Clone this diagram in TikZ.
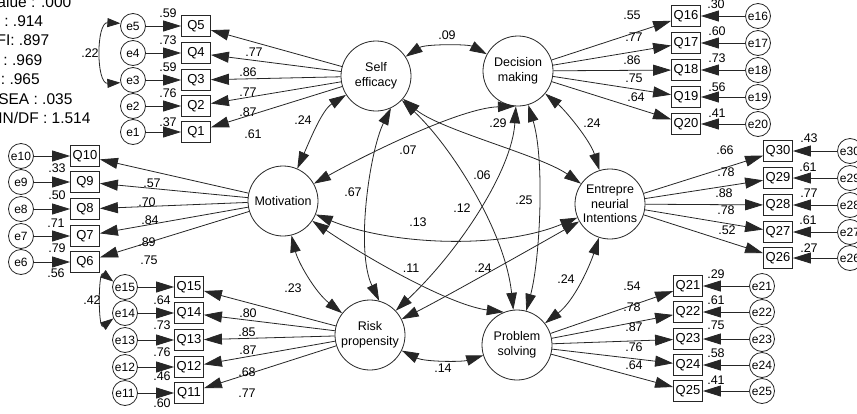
\documentclass[tikz,border=0pt]{standalone}
\usepackage{fontspec}
\setmainfont{Liberation Sans}
\usetikzlibrary{arrows.meta}
\begin{document}
\begin{tikzpicture}[x=1pt,y=-1pt,
  lat/.style={circle,draw=black!85,line width=0.8pt,minimum size=70pt,inner sep=0pt,align=center,font=\fontsize{12.5}{14.5}\selectfont},
  obs/.style={rectangle,draw=black!85,line width=0.8pt,minimum width=29pt,minimum height=21pt,inner sep=0pt,font=\fontsize{13}{14}\selectfont},
  err/.style={circle,draw=black!85,line width=0.8pt,minimum size=25pt,inner sep=0pt,font=\fontsize{12}{14}\selectfont},
  arr/.style={draw=black!85,line width=0.8pt,-{Triangle[length=18pt,width=11pt]}},
  cov/.style={draw=black!85,line width=0.8pt,{Triangle[length=17pt,width=10.5pt]}-{Triangle[length=17pt,width=10.5pt]}},
  ecov/.style={draw=black!85,line width=0.8pt,{Triangle[length=13pt,width=9pt]}-{Triangle[length=13pt,width=9pt]}},
  num/.style={font=\fontsize{12.5}{14}\selectfont,inner sep=0pt},
  fitx/.style={font=\fontsize{15.5}{18}\selectfont,anchor=base west,inner sep=0pt}
]
\useasboundingbox (0,0) rectangle (857,413);
\fill[white] (0,0) rectangle (857,413);
\clip (0,0) rectangle (857,413);

% fit indices
\node[fitx] (f1) at (-26,7) {P-value : .000};
\node[fitx] (f2) at (-26,26.5) {GFI : .914};
\node[fitx] (f3) at (-26,45) {AGFI: .897};
\node[fitx] (f4) at (-26,65) {CFI : .969};
\node[fitx] (f5) at (-26,84.5) {TLI : .965};
\node[fitx] (f6) at (-26,104) {RMSEA : .035};
\node[fitx] (f7) at (-26,123.5) {CMIN/DF : 1.514};

% latent variables
\node[lat] (SE) at (376,76) {Self\\efficacy};
\node[lat] (DM) at (518,71) {Decision\\making};
\node[lat] (Mot) at (283,201) {Motivation};
\node[lat] (EI) at (610,204) {Entrepre\\neurial\\Intentions};
\node[lat] (RP) at (370,335) {Risk\\propensity};
\node[lat] (PS) at (517,345) {Problem\\solving};

% measurement: Self efficacy
\foreach \i/\y in {5/26,4/53,3/80,2/106,1/132}{
  \node[obs] (Q\i) at (196,\y) {Q\i};
  \node[err] (e\i) at (133,\y) {e\i};
  \draw[arr] (e\i) -- (Q\i);
  \draw[arr] (SE) -- (Q\i);
}
% Motivation
\foreach \i/\y in {10/156,9/182,8/209,7/236,6/262}{
  \node[obs] (Q\i) at (85,\y) {Q\i};
  \node[err] (e\i) at (21,\y) {e\i};
  \draw[arr] (e\i) -- (Q\i);
  \draw[arr] (Mot) -- (Q\i);
}
% Risk propensity
\foreach \i/\y in {15/287,14/313,13/340,12/367,11/393}{
  \node[obs] (Q\i) at (189,\y) {Q\i};
  \node[err] (e\i) at (125,\y) {e\i};
  \draw[arr] (e\i) -- (Q\i);
  \draw[arr] (RP) -- (Q\i);
}
% Decision making
\foreach \i/\y in {16/16,17/43,18/70,19/97,20/124}{
  \node[obs] (Q\i) at (686,\y) {Q\i};
  \node[err] (e\i) at (758,\y) {e\i};
  \draw[arr] (e\i) -- (Q\i);
  \draw[arr] (DM) -- (Q\i);
}
% Entrepreneurial intentions
\foreach \i/\y in {30/151,29/178,28/205,27/232,26/258}{
  \node[obs] (Q\i) at (778,\y) {Q\i};
  \node[err] (e\i) at (850,\y) {e\i};
  \draw[arr] (e\i) -- (Q\i);
  \draw[arr] (EI) -- (Q\i);
}
% Problem solving
\foreach \i/\y in {21/286,22/312,23/339,24/365,25/391}{
  \node[obs] (Q\i) at (688,\y) {Q\i};
  \node[err] (e\i) at (762,\y) {e\i};
  \draw[arr] (e\i) -- (Q\i);
  \draw[arr] (PS) -- (Q\i);
}

% error covariances
\draw[ecov] (e5.168) .. controls (96,22) and (96,84) .. (e3.192);
\draw[ecov] (e15.155) .. controls (98,270) and (98,330) .. (e14.205);

% latent covariances
\draw[cov] (SE) .. controls (425,44) and (468,44) .. (DM);
\draw[cov] (RP) .. controls (425,362) and (462,362) .. (PS);
\draw[cov] (SE) .. controls (322,110) and (310,140) .. (Mot);
\draw[cov] (Mot) .. controls (298,262) and (315,292) .. (RP);
\draw[cov] (DM) .. controls (565,110) and (590,140) .. (EI);
\draw[cov] (EI) .. controls (590,265) and (575,300) .. (PS);
\draw[cov] (SE.-65) .. controls (370,150) and (355,250) .. (RP.75);
\draw[cov] (DM) .. controls (545,160) and (540,260) .. (PS);
\draw[cov] (SE) .. controls (450,145) and (505,230) .. (PS);
\draw[cov] (SE) .. controls (440,130) and (540,155) .. (EI);
\draw[cov] (Mot) .. controls (365,155) and (460,108) .. (DM.265);
\draw[cov] (DM) .. controls (512,170) and (460,250) .. (RP);
\draw[cov] (Mot) .. controls (390,245) and (500,250) .. (EI);
\draw[cov] (Mot) .. controls (370,260) and (450,305) .. (PS.112);
\draw[cov] (RP) .. controls (440,300) and (520,255) .. (EI);

% covariance labels
\foreach \x/\y/\t [count=\k] in {447/35/.09, 303/120/.24, 592/123/.24, 293/288/.23, 566/279/.24, 443/368/.14,
  408/150/.07, 353/192/.67, 482/175/.06, 462/208/.12, 524/200/.25, 418/222/.13, 498/123/.29, 411/268/.11, 483/268/.24,
  90/53/.22, 92/300/.42}
  \node[num] (c\k) at (\x,\y) {\t};

% loading labels
\foreach \x/\y/\t [count=\k] in {
  254/52/.77, 248/72/.86, 248/92/.77, 248/112/.87, 253/134/.61,
  152/183/.57, 147/202/.70, 150/220/.84, 147/242/.89, 149/260/.75,
  248/313/.80, 247/332/.85, 248/350/.87, 247/372/.68, 247/393/.77,
  632/15/.55, 634/37/.77, 632/60/.86, 634/78/.75, 636/97/.64,
  725/150/.66, 726/172/.78, 724/193/.88, 726/210/.78, 727/230/.52,
  632/286/.54, 632/307/.78, 634/327/.87, 634/347/.76, 634/365/.64}
  \node[num] (l\k) at (\x,\y) {\t};

% squared multiple correlations
\foreach \x/\y/\t [count=\k] in {
  168/13/.59, 168/40/.73, 168/67/.59, 168/93/.76, 168/122/.37,
  57/168/.33, 57/195/.50, 56/223/.71, 57/248/.79, 56/273/.56,
  162/300/.64, 162/325/.73, 162/352/.76, 162/376/.46, 162/403/.60,
  716/4/.30, 717/31/.60, 717/58/.73, 717/87/.56, 717/113/.41,
  809/138/.43, 808/167/.61, 809/193/.77, 808/220/.61, 809/248/.27,
  716/274/.29, 716/300/.61, 716/325/.75, 716/353/.58, 716/380/.41}
  \node[num] (r\k) at (\x,\y) {\t};
\end{tikzpicture}
\end{document}
